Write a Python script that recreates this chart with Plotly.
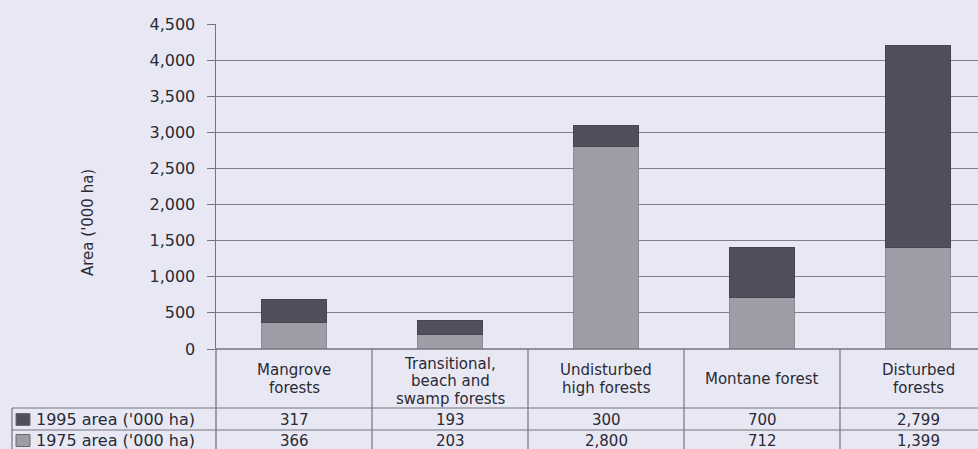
import plotly.graph_objects as go

# ---- data ----
categories = ["Mangrove<br>forests",
              "Transitional,<br>beach and<br>swamp forests",
              "Undisturbed<br>high forests",
              "Montane forest",
              "Disturbed<br>forests"]
area_1975 = [366, 203, 2800, 712, 1399]
area_1995 = [317, 193, 300, 700, 2799]
row_labels = ["1995 area ('000 ha)", "1975 area ('000 ha)"]
y_ticks = [0, 500, 1000, 1500, 2000, 2500, 3000, 3500, 4000, 4500]
y_title = "Area ('000 ha)"

# ---- style ----
W, H = 978, 449
L, R, T, B = 216, 0, 24, 100
PW, PH = W - L - R, H - T - B
CELL = 156.0
BG = "#e8e8f4"
DARK = "#50505c"
LIGHT = "#9d9da7"
GRID = "#80808a"
LINE = "#74747e"
TXT = "#2a2a34"
FONT = "DejaVu Sans"


def px(xp):
    return (xp - L) / PW


def py(yp):
    return (H - B - yp) / PH


xs = list(range(len(categories)))
xmax = -0.5 + PW / CELL

fig = go.Figure()
fig.add_bar(x=xs, y=area_1975, name=row_labels[1], width=0.42,
            marker=dict(color=LIGHT, line=dict(color="#8a8a94", width=1)))
fig.add_bar(x=xs, y=area_1995, name=row_labels[0], width=0.42,
            marker=dict(color=DARK, line=dict(color="#45454f", width=1)))

shapes = []
ann = []

# horizontal table lines
shapes.append(dict(type="line", xref="paper", yref="paper", x0=0, x1=1,
                   y0=py(349), y1=py(349), line=dict(color=LINE, width=1.3)))
for yl in (408, 430):
    shapes.append(dict(type="line", xref="paper", yref="paper", x0=px(12), x1=1,
                       y0=py(yl), y1=py(yl), line=dict(color=LINE, width=1.2)))
# vertical table lines
shapes.append(dict(type="line", xref="paper", yref="paper", x0=0, x1=0,
                   y0=py(349), y1=py(452), line=dict(color=LINE, width=1.3)))
shapes.append(dict(type="line", xref="paper", yref="paper", x0=px(12), x1=px(12),
                   y0=py(408), y1=py(452), line=dict(color=LINE, width=1.2)))
for i in range(1, len(categories)):
    shapes.append(dict(type="line", xref="x", yref="paper", x0=i - 0.5, x1=i - 0.5,
                       y0=py(349), y1=py(452), line=dict(color=LINE, width=1.2)))

# header labels
for i, c in enumerate(categories):
    lines = c.split("<br>")
    n = len(lines)
    center = 379 if n < 3 else 381
    for k, t in enumerate(lines):
        ann.append(dict(x=i, xref="x", yref="paper", y=py(center + (k - (n - 1) / 2) * 17.5),
                        text=t, showarrow=False, xanchor="center", yanchor="middle",
                        font=dict(family=FONT, size=15, color=TXT)))

# data rows
rows = [area_1995, area_1975]
row_y = [419.5, 440.5]
keys = [DARK, LIGHT]
for r, vals in enumerate(rows):
    for i, v in enumerate(vals):
        ann.append(dict(x=i, xref="x", yref="paper", y=py(row_y[r]), text=f"{v:,}",
                        showarrow=False, xanchor="center", yanchor="middle",
                        font=dict(family=FONT, size=15, color=TXT)))
    ann.append(dict(x=px(34), xref="paper", yref="paper", y=py(row_y[r]), text=row_labels[r],
                    showarrow=False, xanchor="left", yanchor="middle",
                    font=dict(family=FONT, size=16, color=TXT)))
    shapes.append(dict(type="rect", xref="paper", yref="paper", x0=px(16), x1=px(30),
                       y0=py(row_y[r] - 6), y1=py(row_y[r] + 6),
                       fillcolor=keys[r], line=dict(color="#6a6a74", width=1)))

# y-axis title
ann.append(dict(x=px(88), xref="paper", yref="paper", y=py(223), text=y_title,
                textangle=-90, showarrow=False, xanchor="center", yanchor="middle",
                font=dict(family=FONT, size=15, color=TXT)))

fig.update_layout(
    width=W, height=H, barmode="stack", showlegend=False,
    margin=dict(l=L, r=R, t=T, b=B, pad=0),
    paper_bgcolor=BG, plot_bgcolor=BG,
    shapes=shapes, annotations=ann,
    xaxis=dict(range=[-0.5, xmax], showticklabels=False, showgrid=False,
               zeroline=False, showline=False, ticks=""),
    yaxis=dict(range=[0, 4500], tickvals=y_ticks, tickformat=",",
               showgrid=True, gridcolor=GRID, gridwidth=1, zeroline=False,
               showline=True, linecolor=LINE, linewidth=1.5,
               ticks="outside", ticklen=8, tickcolor=LINE, tickwidth=1,
               ticklabelstandoff=8,
               tickfont=dict(family=FONT, size=16, color=TXT)),
)

fig.write_html("out.html",
               config={"displayModeBar": False, "staticPlot": True},
               post_script="document.body.style.margin='0';"
                           "document.body.style.overflow='hidden';"
                           "document.body.style.background='" + BG + "';")
